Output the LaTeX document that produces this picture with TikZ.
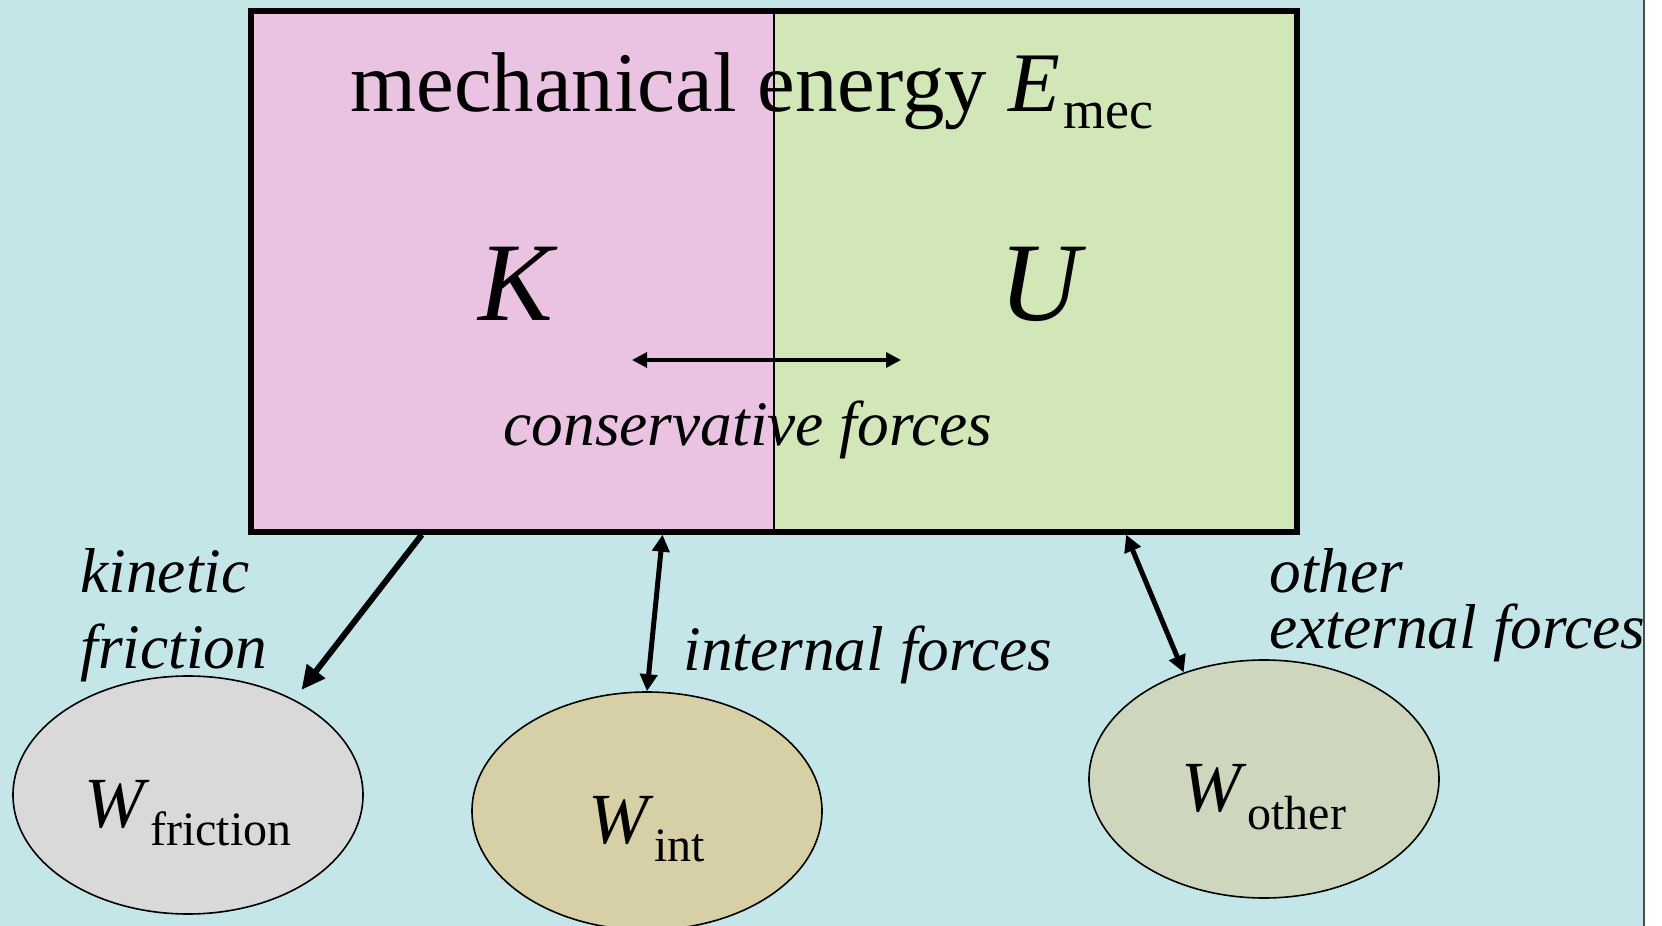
\documentclass[tikz,border=0pt]{standalone}
\usepackage{fontspec}
\setmainfont{Liberation Serif}
\usetikzlibrary{arrows.meta,positioning,shapes.geometric,calc}
\definecolor{bgcyan}{RGB}{196,230,233}
\definecolor{kpink}{RGB}{234,194,226}
\definecolor{ugreen}{RGB}{210,231,183}
\definecolor{wgray}{RGB}{217,217,217}
\definecolor{wtan}{RGB}{215,207,166}
\definecolor{wolive}{RGB}{206,214,190}
\newcommand{\wsub}[2][24]{\raisebox{-9pt}{\fontsize{#1}{#1}\selectfont\upshape #2}}
\tikzset{
  wnode/.style={ellipse,draw,line width=0.8pt,fill=#1,minimum width=175pt,minimum height=119pt,
                inner sep=0pt,text height=32pt,text depth=0pt,font=\fontsize{36}{40}\selectfont},
  big/.style={font=\fontsize{56}{60}\selectfont\itshape,inner sep=0pt},
  lbl/.style={font=\fontsize{31.7}{38}\selectfont\itshape,inner sep=0pt},
  arr/.style={-{Triangle[length=12pt,width=11pt]},line width=3pt},
  darr/.style={{Triangle[length=8.5pt,width=8.5pt]}-{Triangle[length=8.5pt,width=8.5pt]},line width=2.5pt},
  carr/.style={{Triangle[length=7.5pt,width=7.5pt]}-{Triangle[length=7.5pt,width=7.5pt]},line width=1.6pt},
}

\begin{document}
\begin{tikzpicture}[x=0.5pt,y=-0.5pt]
    \useasboundingbox (0,0) rectangle (1662,926);
    \fill[bgcyan] (0,0) rectangle (1643,926);
    \draw[line width=1pt,black!70] (1643.5,0) -- (1643.5,926);

    % mechanical energy box
    \node[draw,line width=2.65pt,minimum width=523pt,minimum height=260.5pt,inner sep=0pt,fill=ugreen,
          path picture={\fill[kpink] (path picture bounding box.south west) rectangle (path picture bounding box.north);
                        \draw[line width=0.8pt] (path picture bounding box.south) -- (path picture bounding box.north);}]
      (mec) at (774,271.5) {};
    \node[font=\fontsize{42.4}{44}\selectfont,anchor=base west,inner sep=0pt] (emec) at (350,111)
      {mechanical energy \textit{E}\kern2pt\wsub[27]{mec}};
    \node[big,anchor=base] (k) at (516,320) {K};
    \node[big,anchor=base] (u) at (1040,320) {U};
    \coordinate (cl) at (632,360);
    \coordinate (cr) at (901,360);
    \draw[carr] (cl) -- (cr);
    \node[lbl,anchor=base] (cons) at (748,445) {conservative forces};

    % work terms
    \node[wnode=wgray] (wfr) at (188,795) {\textit{W}\wsub{friction}};
    \node[wnode=wtan] (wint) at (647,811) {\textit{W}\wsub{int}};
    \node[wnode=wolive] (wot) at (1264,779) {\textit{W}\wsub{other}};

    \draw[arr,shorten >=6pt] ($(mec.south west)!0.165!(mec.south east)$) -- (wfr.42);
    \draw[darr] ($(mec.south west)!0.394!(mec.south east)$) -- (wint.north);
    \draw[darr] ($(mec.south west)!0.835!(mec.south east)$) -- (wot.127);

    \node[lbl,align=left,anchor=base west] (kin) at (80,668) {kinetic\\friction};
    \node[lbl,anchor=base west] (intf) at (683,670) {internal forces};
    \node[lbl,align=left,anchor=base west,font=\fontsize{31.7}{28}\selectfont\itshape] (oth) at (1269,648)
      {other\\external forces};
\end{tikzpicture}
\end{document}
